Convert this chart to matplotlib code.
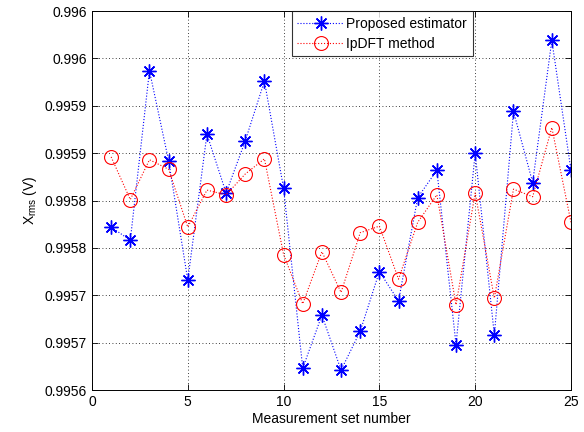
import numpy as np
import matplotlib
matplotlib.use("Agg")
from matplotlib import pyplot as plt

plt.rcParams['font.family'] = ['Liberation Sans', 'DejaVu Sans']
plt.rcParams['mathtext.fontset'] = 'custom'
plt.rcParams['mathtext.rm'] = 'Liberation Sans'

# measurement set numbers
sets = np.arange(1, 26)

# proposed estimator values
proposed = [0.995772, 0.995758, 0.995937, 0.995842, 0.995716,
            0.995870, 0.995808, 0.995863, 0.995926, 0.995813,
            0.995623, 0.995679, 0.995621, 0.995662, 0.995725,
            0.995694, 0.995803, 0.995832, 0.995648, 0.995850,
            0.995658, 0.995894, 0.995819, 0.995969, 0.995832]

# IpDFT method values
ipdft = [0.995846, 0.995801, 0.995843, 0.995833, 0.995772,
         0.995811, 0.995806, 0.995828, 0.995844, 0.995743,
         0.995691, 0.995746, 0.995703, 0.995766, 0.995773,
         0.995717, 0.995777, 0.995806, 0.995690, 0.995808,
         0.995697, 0.995812, 0.995804, 0.995877, 0.995777]

yticks = [0.99560, 0.99565, 0.99570, 0.99575, 0.99580,
          0.99585, 0.99590, 0.99595, 0.99600]
ytick_labels = ['0.9956', '0.9957', '0.9957', '0.9958', '0.9958',
                '0.9959', '0.9959', '0.996', '0.996']
xticks = [0, 5, 10, 15, 20, 25]

fig = plt.figure(figsize=(5.84, 4.32), dpi=100)
ax = fig.add_axes([0.1575, 0.0972, 0.8202, 0.8773])

# matlab style asterisk: 8 spokes
ax.plot(sets, proposed, linestyle=':', color='blue', linewidth=0.8,
        marker=(8, 2, 0), markersize=10, markeredgewidth=1.0,
        label='Proposed estimator')
ax.plot(sets, ipdft, linestyle=':', color='red', linewidth=0.8,
        marker='o', markersize=10, markerfacecolor='none',
        markeredgewidth=0.8, label='IpDFT method')

ax.set_xlim(0, 25)
ax.set_ylim(0.9956, 0.9960)
ax.set_xticks(xticks)
ax.set_yticks(yticks)
ax.set_yticklabels(ytick_labels)
ax.tick_params(direction='in', top=True, right=True, labelsize=10,
               length=4, width=0.6, colors='black')
ax.grid(True, linestyle=(0, (1, 3)), color='black', linewidth=0.6)
for s in ax.spines.values():
    s.set_linewidth(0.7)

ax.set_xlabel('Measurement set number', fontsize=10, labelpad=2)
ax.set_ylabel(r'X$_{\mathrm{rms}}$ (V)', fontsize=10, labelpad=4)

leg = ax.legend(loc='upper right', bbox_to_anchor=(0.795, 1.0),
                borderaxespad=0, fancybox=False, fontsize=10,
                handlelength=3.4, handletextpad=0.15, borderpad=0.4,
                labelspacing=0.45)
leg.get_frame().set_edgecolor('black')
leg.get_frame().set_linewidth(0.8)

fig.savefig('out.png', dpi=100)
